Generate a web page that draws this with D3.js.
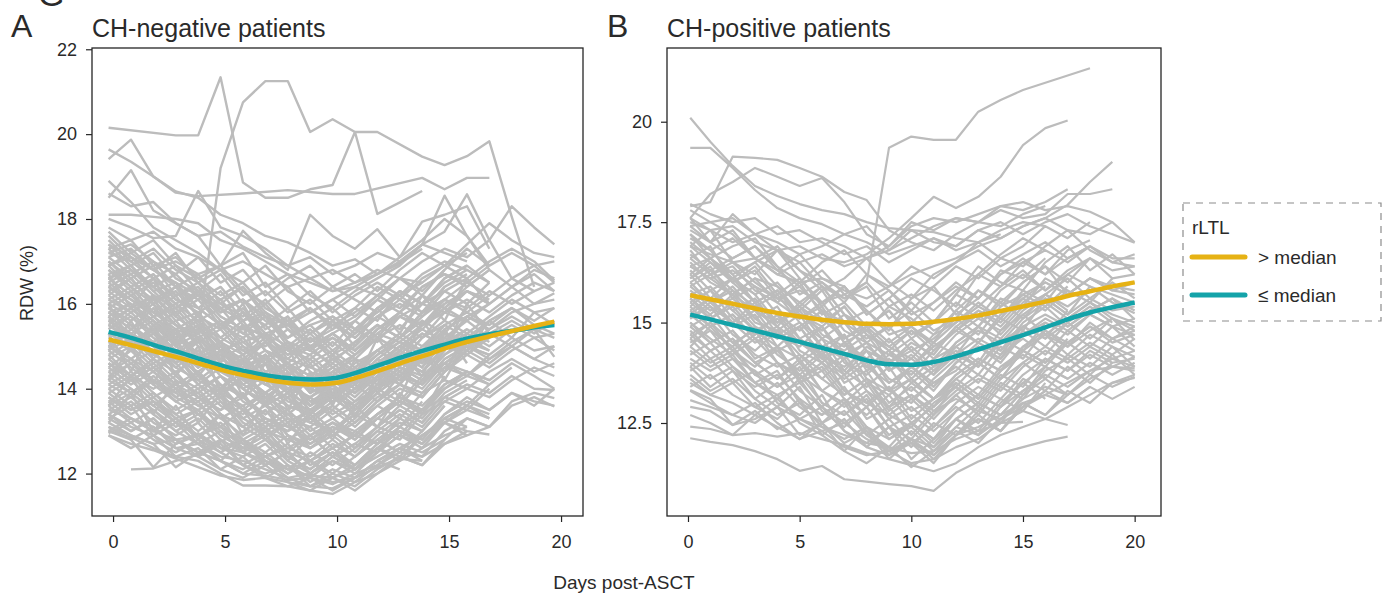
<!DOCTYPE html>
<html>
<head>
<meta charset="utf-8">
<title>RDW after ASCT by rLTL group</title>
<script src="https://cdn.jsdelivr.net/npm/d3@7/dist/d3.min.js"></script>
<style>
  html, body { margin: 0; padding: 0; background: #fff; }
  svg { display: block; }
  text { font-family: "Liberation Sans", "Helvetica Neue", Arial, sans-serif; fill: #2a2a2a; }
</style>
</head>
<body>
<svg id="chart" width="1392" height="602"></svg>
<script>
const _ = null; // no measurement on that day

// Measurement days (days post-ASCT) for each cohort
const negVisitDays = [-0.2, 0.8, 1.8, 2.8, 3.8, 4.8, 5.8, 6.8, 7.8, 8.8, 9.8, 10.8, 11.8, 12.8, 13.8, 14.8, 15.8, 16.8, 17.8, 18.8, 19.7];
const posVisitDays = [0.1, 1, 2, 3, 4, 5, 6, 7, 8, 9, 10, 11, 12, 13, 14, 15, 16, 17, 18, 19, 20];

// RDW (%) per patient, CH-negative cohort (one array per patient, by visit)
const negPatients = [
  [20.15,_,_,19.97,19.97,21.34,18.86,18.5,18.5,18.7,18.8,20.05,18.12,_,18.66],
  [16.6,16.2,15.8,15.5,15.3,19.2,20.75,21.25,21.25,20.05,20.35,20.05,20.05,_,19.47,19.27,19.48,19.83,18.05,16.4],
  [19.41,19.87,19.0,18.62,18.54,_,18.6,_,18.68,_,18.59,18.59,_,_,18.97,18.7,18.97,18.97],
  [19.64,19.35,19.0,18.65,18.5,18.1,17.9,17.6,17.45,17.2,16.9,17.05,16.7,16.95,17.3],
  [18.5,19.15,18.2,17.9,17.6,17.7,17.35,17.1,16.9,16.6,16.8,16.5,16.7,17.1,17.5,18.0,17.6,16.9],
  [18.0,17.8,17.55,17.6,18.66,17.8,17.6,17.3,16.9,17.1,16.7,16.9,17.2,17.0,17.4,17.2,17.0],
  [16.9,17.2,16.8,16.5,16.2,15.9,16.1,15.7,15.5,15.8,16.1,16.4,16.7,17.0,17.4,17.7,18.58,17.5,16.6,16.3,16.5],
  [17.4,17.1,16.8,17.0,16.7,16.9,17.72,17.2,16.8,18.1,17.6,17.3,17.76,17.1,17.94,18.1,18.3,17.3],
  [17.8,17.5,17.7,17.3,17.1,16.8,17.0,16.7,16.4,16.6,16.3,16.5,16.8,16.6,17.0,17.3,17.1,17.5,18.3,17.8,17.4],
  [18.1,18.1,18.05,18.0,17.9,17.5,17.3,17.0,16.7,16.5,16.3,16.4,16.2,16.6,16.5],
  [18.9,18.4,17.8,17.5,17.2,16.8,16.5,16.9,16.3,16.0,16.4,16.1,15.8,16.2,16.5,16.9,17.4,17.9,17.5,17.2,17.1],
  [18.6,18.3,18.4,17.9,17.6,16.9,17.2,16.4,16.7,16.2,15.9,16.3,16.6,16.9,17.4,18.55,17.6,16.8],
  [_,12.1,12.12,12.3,12.45,12.75,13.0,13.3,13.1,13.5,13.8,13.6,14.0,14.3],
  [13.0,12.8,12.15,12.7,12.95,12.6,12.8,12.4,12.6,12.9,13.2,13.0,13.4,13.7,13.5,14.0],
  [13.2,12.9,12.7,12.15,12.5,12.3,12.1,12.4,12.0,12.3,12.6,12.9,12.7,13.1,13.5],
  [13.0,12.85,12.6,12.4,12.3,12.0,11.72,11.72,11.7,11.6,11.52,11.8,12.0,12.3,12.6,12.9,13.1],
  [12.9,12.7,12.55,12.35,12.15,11.95,11.85,11.9,11.8,11.7,11.65,11.9,12.15,12.35,12.3],
  [13.1,12.9,12.7,12.8,12.5,12.3,12.0,11.95,11.85,11.9,11.75,12.0,12.2,12.5,12.4,12.7,12.9,13.1,13.6,13.8,13.58],
  [13.4,13.1,12.9,12.6,12.7,12.4,12.3,12.1,11.9,12.0,11.8,11.9,12.3,12.6,12.9,13.2,13.0,12.92],
  [13.5,13.3,13.0,12.8,12.9,12.6,12.5,12.3,12.1,11.95,11.9,12.1,12.4,12.7,12.5,12.8,13.3,13.1,13.7,13.9,13.78],
  [17.6,17.1,16.8,17.2,16.5,16.1,16.4,15.7,15.2,15.5,15.0,15.6,16.1,16.6,16.2,16.8,17.3,16.9],
  [15.1,15.3,15.0,15.4,15.2,14.9,15.1,15.3,14.8,15.0,15.2,14.9,15.3,15.1,15.5],
  [16.2,16.6,16.0,15.1,15.5,14.6,14.0,13.6,13.9,13.3,13.7,14.2,14.0,14.8,15.3,15.0,15.7,16.0],
  [13.9,13.5,13.7,13.2,12.9,13.1,12.6,12.4,12.1,12.5,12.2,12.6,13.0,12.8,13.4,13.7,13.5,14.0],
  [14.6,14.2,14.5,14.8,14.1,13.8,14.3,13.9,13.6,13.4,13.9,14.2,14.7,14.4,15.0,15.3,15.1,15.6,15.9,15.5,15.3],
  [16.9,16.4,16.7,16.1,15.9,16.3,15.6,15.8,15.2,15.5,15.7,15.3,15.9,16.2,15.8,16.4],
  [13.3,13.6,12.9,13.2,12.7,12.3,12.8,12.2,12.5,12.0,12.4,12.7,12.5,13.1],
  [15.6,15.9,15.4,14.7,15.1,14.5,14.8,14.2,14.6,14.1,13.8,14.4,14.1,14.9,14.6,15.2,15.6,15.2],
  [17.2,17.4,17.0,16.7,17.1,16.5,16.8,16.2,16.6,16.9,16.4,16.7,16.3,16.8,17.2,16.9,17.2],
  [14.9,14.5,14.1,14.4,13.8,13.5,13.9,13.2,13.0,13.4,12.9,13.3,13.8,14.1,13.9,14.5,14.9,14.6,15.0,14.7,15.0],
  [15.8,15.4,15.9,15.3,15.6,15.0,14.6,15.1,14.5,14.8,14.3,14.0,14.5,14.9,15.3,15.0],
  [16.5,16.1,15.8,16.2,15.5,15.2,15.6,14.9,14.7,15.2,14.8,15.4,15.1,15.7,16.0,15.8,16.3,16.0,16.4,16.7,16.3],
  [14.3,14.6,14.2,13.9,14.4,13.7,13.4,13.8,13.2,13.5,13.0,13.4,13.9,13.6,14.2,14.6,14.3,14.8],
  [17.0,16.6,16.9,16.2,16.4,15.8,16.1,15.4,15.7,15.1,15.4,15.9,15.6,16.3,16.0,16.6,16.9],
  [15.3,15.0,15.4,14.9,14.6,14.9,14.3,14.6,14.0,14.3,13.9,14.2,14.6,14.3,14.8,15.1,14.9,15.4,15.7,15.4,15.5],
  [13.6,13.2,13.5,13.0,12.7,13.0,12.5,12.2,12.5,12.0,12.3,12.1,12.6,12.4,12.9,13.3,13.1],
  [16.0,16.3,15.7,15.9,15.3,15.6,15.0,14.7,15.1,14.6,14.9,14.5,14.9,15.3,15.0,15.5],
  [14.8,15.1,14.6,14.9,14.3,14.0,14.4,13.8,13.5,13.8,13.4,13.7,14.0,14.5,14.2,14.8,15.2,14.9],
  [17.4,16.9,17.2,16.6,16.3,16.7,16.0,16.3,15.8,16.1,15.6,15.9,16.4,16.1,16.6,16.9,16.6,17.0,17.3,17.0,16.55],
  [15.5,15.2,14.8,15.1,14.5,14.8,14.2,13.9,14.3,13.7,14.0,13.6,14.1,14.5,14.2,14.9],
  [13.1,12.8,13.1,12.6,12.4,12.1,12.4,11.9,11.7,11.9,11.6,11.9,12.3,12.1],
  [16.7,16.9,16.3,16.5,15.9,15.5,15.9,15.3,15.0,15.4,14.9,15.3,15.7,15.4,16.0,16.3,16.0,16.5],
  [14.1,13.8,14.2,13.7,13.9,13.4,13.1,13.5,12.9,12.7,13.1,12.8,13.3,13.7,13.5,14.1,14.4,14.2,14.6,14.3,14.0],
  [15.9,15.6,16.0,15.5,15.1,15.4,14.8,15.1,14.6,14.3,14.7,14.4,14.8,15.2,14.9,15.5,15.8,15.5],
  [14.5,14.1,14.4,13.9,13.6,13.9,13.3,13.0,13.3,12.8,13.1,12.9,13.4,13.8,13.6,14.1],
  [17.1,17.3,16.8,16.4,16.7,16.0,15.7,16.1,15.5,15.3,15.7,15.4,15.8,16.3,16.0,16.5,16.8,16.5],
  [15.0,14.7,15.1,14.5,14.2,14.6,14.0,13.7,14.0,13.5,13.8,13.4,13.9,14.3,14.1,14.7,15.0,14.7,15.1,15.4,14.75],
  [13.5,13.8,13.4,13.0,13.3,12.8,12.5,12.8,12.3,12.0,12.4,12.1,12.5,12.9,12.7,13.2,13.5,13.3],
  [16.3,15.9,16.2,15.6,15.8,15.2,14.9,15.3,14.7,14.5,14.8,14.4,14.9,15.2,15.6,15.3,15.9],
  [14.0,14.3,13.8,14.1,13.6,13.3,13.6,13.0,12.8,13.1,12.6,12.9,13.3,13.1,13.7],
  [15.7,15.3,15.6,15.0,14.7,15.0,14.4,14.1,14.5,13.9,14.2,13.9,14.4,14.1,14.7,15.0,14.8,15.3,15.6,15.3,15.6],
  [16.8,16.4,16.0,16.4,15.7,15.4,15.8,15.1,14.8,15.2,14.7,15.0,15.5,15.2,15.8,16.1],
  [13.8,13.4,13.7,13.3,13.5,12.9,12.6,12.9,12.4,12.1,12.5,12.2,12.7,13.0,12.8,13.4,13.7,13.5,13.9,13.7,13.6],
  [15.4,15.7,15.2,14.8,15.2,14.6,14.3,14.6,14.0,13.8,14.1,13.7,14.2,14.6,14.4,14.9],
  [17.5,17.0,17.3,16.8,16.5,16.8,16.2,16.5,15.9,16.3,15.8,16.2,16.5,16.2,16.7,17.0,16.8],
  [14.4,14.0,13.6,14.0,13.4,13.1,13.5,12.8,12.5,12.9,12.4,12.7,13.1,12.9,13.5,13.8,13.6,14.1],
  [16.1,16.4,15.8,15.4,15.7,15.1,14.8,15.2,14.6,14.3,14.7,14.3,14.8,15.1,14.9,15.4,15.7,15.4,15.8,16.0,16.25],
  [12.9,12.6,12.9,12.4,12.6,12.1,11.9,12.2,11.8,11.6,11.9,11.7,12.1,12.4,12.2,12.8],
  [15.2,14.9,15.3,14.7,14.4,14.8,14.1,13.8,14.2,13.6,13.9,13.5,14.0,14.4,14.1,14.6,15.0,14.8],
  [16.6,16.8,16.3,15.8,16.1,15.5,15.2,15.5,14.9,14.7,15.1,14.7,15.2,15.5,15.2,15.8,16.1,15.8,16.2,16.5,16.3],
  [14.7,14.3,14.6,14.1,13.8,14.1,13.5,13.2,13.5,13.0,13.3,12.9,13.4,13.8,13.5,14.0,14.4,14.2],
  [13.4,13.0,13.3,12.8,12.5,12.8,12.2,12.0,12.2,11.8,12.1,11.9,12.3,12.6,12.4,13.0,13.3,13.1],
  [15.8,16.0,15.6,15.2,15.5,14.9,14.6,14.9,14.4,14.1,14.5,14.2,14.6,15.0,14.7,15.3],
  [17.3,17.5,16.9,17.1,16.6,16.2,16.5,15.9,15.6,15.9,15.5,15.8,16.2,15.9,16.4,16.7,16.4,16.8],
  [14.2,13.9,14.3,13.8,13.5,13.8,13.2,12.9,13.2,12.7,13.0,12.6,13.1,13.5,13.2,13.8,14.1,13.9,14.3,14.0,13.97],
  [15.6,15.2,14.9,15.3,14.7,14.4,14.7,14.1,13.8,14.2,13.7,14.0,14.4,14.2,14.7,15.0,14.8],
  [16.4,16.7,16.2,15.9,16.3,15.7,15.4,15.7,15.1,14.9,15.3,14.9,15.4,15.7,15.5,16.0,16.3,16.1],
  [13.7,14.0,13.6,13.2,13.5,13.0,12.7,13.0,12.5,12.3,12.7,12.4,12.8,13.2,13.0,13.6],
  [15.0,15.3,14.8,14.5,14.9,14.3,14.0,14.3,13.7,13.5,13.9,13.5,14.0,14.4,14.1,14.7,15.0,14.8,15.2,14.9,15.0],
  [14.2,15.0,14.1,15.2,14.3,14.9,13.8,14.6,13.5,14.4,13.6,14.7,13.9,14.8,14.3,15.4,14.6],
  [16.0,15.1,16.2,15.0,15.8,14.6,15.5,14.2,15.0,13.9,14.8,14.1,15.2,14.5,15.6,14.9,16.0,15.3],
  [15.3,14.4,15.5,14.6,15.2,13.9,14.7,13.6,14.4,13.4,14.1,13.3,14.3,13.8,14.9,14.2,15.1],
  [13.6,14.3,13.4,14.2,13.2,13.9,12.9,13.7,12.7,13.4,12.8,13.6,13.1,13.9,13.4,14.3],
  [16.7,15.9,16.6,15.7,16.3,15.4,16.0,15.1,15.7,14.9,15.6,15.0,15.9,15.3,16.2,15.6,16.6,16.0],
  [14.9,15.6,14.7,15.4,14.5,15.1,14.2,14.8,13.9,14.6,13.8,14.5,14.2,14.9,14.5,15.3,14.9,15.6,15.2,15.8,15.5],
  [15.7,15.0,15.4,14.3,15.0,14.0,14.6,13.7,14.3,13.6,14.2,13.9,14.6,14.1,14.9,14.4,15.3],
  [13.2,13.9,13.0,13.6,12.8,13.4,12.5,13.1,12.3,12.9,12.4,13.0,12.7,13.3],
  [16.4,16.0,15.5,15.8,15.2,14.7,15.0,14.4,14.6,14.1,14.4,14.7,14.5,15.0,15.4,15.1,15.7],
  [15.0,15.4,15.1,14.6,14.1,14.5,14.0,13.6,13.9,13.4,13.8,14.1,13.7,14.3,14.7,14.4,14.9,15.3,15.0,15.4,15.2],
  [14.1,14.4,13.9,13.5,13.8,13.3,12.9,13.2,12.8,12.6,13.0,13.4,13.1,13.6,13.3,13.9,14.2],
  [17.0,16.5,16.1,16.4,15.9,15.5,15.8,15.3,15.5,15.0,15.3,15.6,15.2,15.8,16.2,15.9,16.4,16.8,16.4,16.8,16.6],
  [15.9,15.5,15.1,15.4,14.8,14.4,14.7,14.3,13.9,14.2,14.5,14.1,14.6,15.0,14.7,15.2],
  [13.0,13.3,13.1,12.7,12.9,12.5,12.2,12.5,12.1,12.3,12.0,12.4,12.8,12.5,13.0],
  [16.6,16.2,16.5,16.0,15.6,15.9,15.3,15.0,15.4,14.9,14.6,15.1,15.5,15.2,15.7,16.1,15.8,16.2],
  [14.8,14.3,14.7,14.2,13.9,14.3,13.7,13.4,13.8,13.3,13.6,13.2,13.7,14.1,13.8,14.4,14.8,14.5,14.9,15.2,14.9],
  [15.5,15.9,15.5,15.0,15.3,14.7,14.4,14.8,14.2,14.0,14.4,14.1,14.5,14.8,14.5,15.1,15.4],
  [17.3,16.8,16.4,16.7,16.2,15.8,16.1,15.6,15.2,15.6,15.9,15.4,15.9,16.3,16.0,16.6,16.9,16.5],
  [13.4,13.7,13.2,12.9,13.2,12.6,12.4,12.7,12.2,11.9,12.3,12.0,12.5,12.9,12.6,13.2,13.6,13.3],
  [16.0,15.7,15.3,15.6,15.0,14.8,15.2,14.6,14.3,14.7,14.2,14.5,14.9,14.6,15.2,15.5,15.2,15.6,15.9,15.6,15.9],
  [14.5,14.9,14.4,14.0,14.3,13.8,13.5,13.9,13.3,13.1,13.5,13.1,13.6,14.0,13.8,14.4],
  [15.3,15.0,15.5,15.1,14.6,14.9,14.4,14.1,14.5,13.9,14.2,13.8,14.3,14.7,14.4,15.0,15.3,15.0,15.4],
  [16.9,17.1,16.6,16.2,16.5,15.9,15.6,16.0,15.4,15.1,15.5,15.2,15.7,16.0,15.7,16.3,16.6],
  [14.0,13.6,13.9,13.4,13.0,13.4,12.8,12.5,12.9,12.3,12.6,12.2,12.7,13.1,12.8,13.4,13.8,13.5,13.9,13.6,14.0],
  [15.7,16.0,15.6,15.1,15.4,14.9,14.5,14.8,14.3,14.0,14.4,14.0,14.5,14.9,14.6,15.2],
  [16.2,15.8,16.1,15.5,15.2,15.5,14.9,14.6,15.0,14.4,14.1,14.6,14.9,14.6,15.2,15.6,15.3,15.7,16.1,15.8,15.9],
  [13.7,13.3,13.0,13.3,12.8,12.5,12.8,12.3,12.0,12.3,11.9,12.2,12.6,12.3,12.9,13.2,12.9],
  [15.2,15.5,15.0,14.6,14.9,14.4,14.1,14.4,13.9,13.6,14.0,13.6,14.1,14.5,14.3,14.8,15.1,14.9],
  [17.7,17.2,17.5,16.9,16.6,16.9,16.3,16.0,16.4,15.8,16.1,15.7,16.2,16.6,16.3,16.8],
  [14.6,14.2,14.5,14.0,13.7,14.0,13.5,13.1,13.4,12.9,13.2,12.8,13.3,13.7,13.4,14.0,14.3,14.1,14.5],
  [16.5,16.8,16.4,15.9,16.2,15.6,15.3,15.7,15.0,14.8,15.2,14.8,15.3,15.7,15.4,15.9,16.3,16.0],
  [15.1,14.7,14.4,14.8,14.2,13.9,14.3,13.6,13.4,13.8,13.3,13.6,14.0,13.7,14.3,14.6,14.4],
  [13.9,14.2,13.7,13.4,13.7,13.1,12.8,13.1,12.6,12.4,12.8,12.4,12.9,13.3,13.0,13.6],
  [16.3,16.6,16.0,16.3,15.7,15.4,15.8,15.2,14.9,15.3,14.8,15.1,15.5,15.2,15.8,16.1,15.9,16.3,16.0,16.3],
  [14.4,14.7,14.2,13.8,14.1,13.6,13.3,13.6,13.1,12.8,13.2,12.9,13.4,13.7,13.5,14.1,14.4,14.1],
  [15.8,15.4,15.7,15.2,14.8,15.1,14.6,14.2,14.6,14.0,13.8,14.2,14.6,14.3,14.9,15.2,15.0,15.4],
  [12.95,13.2,12.8,12.5,12.8,12.3,12.0,12.3,11.9,11.7,12.0,11.8,12.2,12.6,12.3],
  [16.8,16.3,16.6,16.1,15.8,16.1,15.5,15.2,15.6,15.0,15.3,14.9,15.4,15.8,15.5,16.1,16.5,16.2,16.6,16.9,16.5],
  [14.9,15.2,14.7,14.4,14.7,14.1,13.8,14.2,13.6,13.4,13.8,13.4,13.9,14.3,14.0,14.6,14.9],
  [15.5,15.1,15.4,14.9,14.5,14.9,14.3,13.9,14.3,13.7,13.5,14.0,14.4,14.1,14.7,15.0,14.8,15.2,15.5,15.2,15.3],
  [17.1,16.7,17.0,16.4,16.1,16.4,15.8,15.5,15.9,15.3,15.6,15.2,15.7,16.1,15.8,16.4,16.7],
  [13.3,13.0,13.3,12.8,12.4,12.7,12.2,11.9,12.2,11.7,11.9,11.6,12.0,12.4,12.2,12.7,13.0],
  [14.3,13.9,14.2,13.7,13.4,13.7,13.1,12.8,13.2,12.6,12.9,12.5,13.0,13.4,13.1,13.7,14.0,13.8,14.2,14.5,14.3],
  [16.1,15.8,16.2,15.7,15.3,15.6,15.1,14.7,15.1,14.5,14.3,14.8,15.2,14.9,15.5,15.8,15.6],
  [15.4,15.8,15.3,14.9,15.2,14.6,14.3,14.7,14.1,13.8,14.2,13.9,14.3,14.7,14.4,15.0,15.4,15.1],
  [14.7,15.0,14.5,14.1,14.4,13.9,13.6,13.9,13.4,13.2,13.6,13.2,13.7,14.1,13.8,14.4],
  [16.4,16.1,15.7,16.0,15.4,15.1,15.5,14.9,14.6,15.0,14.5,14.8,15.2,14.9,15.5,15.9,15.6,16.0,16.4,16.0,16.1],
  [13.6,13.9,13.5,13.1,13.4,12.9,12.6,12.9,12.4,12.1,12.5,12.1,12.6,13.0,12.7,13.3,13.6],
  [15.6,15.3,15.0,15.3,14.8,14.5,14.8,14.2,14.0,14.3,13.8,14.1,14.5,14.2,14.8,15.1,14.9,15.3],
  [17.2,17.0,16.6,16.9,16.3,16.0,16.4,15.8,15.5,15.9,15.4,15.7,16.1,15.8,16.4,16.7,16.5,16.9,17.2,16.9,17.0],
  [14.2,14.6,14.1,13.7,14.0,13.4,13.1,13.5,12.9,12.6,13.0,12.6,13.1,13.5,13.2,13.8,14.1],
  [15.0,14.6,14.9,14.3,14.0,14.3,13.8,13.4,13.8,13.2,13.0,13.5,13.9,13.6,14.2,14.5,14.3,14.7,15.0,14.7,14.5],
  [16.6,16.9,16.4,16.0,16.3,15.7,15.4,15.8,15.1,14.9,15.3,14.9,15.4,15.8,15.5,16.0],
  [13.8,13.5,13.8,13.3,12.9,13.2,12.7,12.4,12.7,12.2,12.5,12.1,12.6,13.0,12.7,13.3,13.6,13.4],
  [15.9,16.2,15.7,15.3,15.6,15.0,14.7,15.1,14.5,14.2,14.6,14.2,14.7,15.1,14.8,15.4,15.7,15.5,15.9],
  [14.6,14.3,14.0,14.3,13.8,13.5,13.8,13.3,13.0,13.3,12.9,13.2,13.6,13.3,13.9,14.2,14.0,14.4,14.7,14.4,14.6]
];

// RDW (%) per patient, CH-positive cohort
const posPatients = [
  [20.1,19.5,18.9,18.4,18.15,17.95,17.8,17.7,17.5,17.35,17.3,17.25,17.1,17.0,17.3,17.5,17.4],
  [19.35,19.35,18.85,18.3,17.85,17.6,17.45,17.2,17.0,16.7,16.9,17.1,16.8,17.0,17.2],
  [17.9,18.0,19.13,19.1,19.05,18.85,18.63,18.25,18.05,17.3,17.0,16.8,17.2,17.5,17.4,17.7,17.9],
  [16.4,16.1,16.3,15.9,15.6,15.8,15.5,15.7,16.0,19.35,19.63,19.55,19.55,20.25,20.54,20.79,_,_,21.33],
  [17.5,17.3,17.4,17.0,16.8,16.9,16.6,16.5,16.7,17.1,17.6,18.13,17.85,18.13,18.63,19.42,19.84,20.03],
  [16.9,16.7,16.5,16.6,16.2,16.0,16.1,15.8,15.6,15.9,16.2,16.4,16.6,16.9,17.1,17.4,17.6,17.93,18.5,19.0],
  [17.8,17.5,17.6,17.2,17.4,17.0,17.1,16.9,16.6,16.8,17.1,17.4,17.6,17.5,17.8,17.6,17.7,18.2,18.2,18.32],
  [17.6,17.3,17.0,17.2,16.8,16.5,16.7,16.4,16.6,16.9,17.4,17.6,17.5,17.7,17.9,17.8,18.0,18.32],
  [17.6,18.2,18.5,18.85,18.63,18.4,18.6,18.0,17.2,16.9,17.5,17.3,17.6,17.5,17.9,18.0,17.8,17.9,17.76,17.5],
  [17.3,17.0,17.7,17.2,17.0,16.7,16.9,17.2,17.4,16.8,17.3,17.0,16.9,17.3,17.1,17.4,17.6,17.3,17.2,17.5,17.0],
  [12.12,12.03,11.95,11.8,11.6,11.31,11.43,11.1,11.04,10.98,10.93,10.81,11.26,11.54,11.75,11.9,12.05,12.16],
  [12.41,12.35,12.2,12.25,12.16,12.25,12.1,11.95,11.75,11.6,11.45,11.3,11.5,11.9,12.2,12.4,12.6,12.9,13.2,13.5,13.62],
  [12.7,12.5,12.2,12.7,12.4,12.1,12.3,11.9,11.7,11.8,11.5,11.6,11.9,12.1,12.5,12.53],
  [12.9,12.8,12.45,12.6,12.9,12.6,12.4,12.2,12.0,11.9,11.75,11.8,12.1,12.3,12.5,12.8,12.6,12.45],
  [13.32,13.1,12.45,12.8,12.35,12.6,12.3,12.5,12.1,11.8,12.0,11.7,12.2,12.4,12.7,13.0,13.2,13.5,13.8,13.9,13.86],
  [13.07,12.9,12.7,12.5,12.9,12.2,12.5,12.0,12.3,11.6,12.1,11.9,12.4,12.2,12.6,12.9,13.3,13.0,13.4],
  [13.5,13.2,13.0,12.7,13.1,12.6,12.9,12.3,12.0,12.4,11.9,12.5,12.2,12.8,12.6,13.1,13.4,13.2,13.6,13.9,14.15],
  [17.95,17.7,17.5,17.6,17.2,17.3,17.0,16.7,16.9,16.5,16.8,17.1,16.9,17.3,17.5,17.2,17.5,17.7,17.4,17.2,16.99],
  [17.6,17.0,17.3,16.6,16.9,16.3,16.0,15.5,16.2,15.8,15.3,15.9,16.4,16.1,16.6,16.4,16.9,17.3,16.8,16.5,16.4],
  [17.4,17.5,17.2,16.6,16.3,16.7,16.1,15.9,15.2,15.6,16.1,15.8,15.4,16.2,16.7,17.1,16.8],
  [17.2,16.6,16.9,17.1,16.4,15.7,16.0,15.6,15.9,15.1,15.5,15.0,15.7,16.4,16.0,15.8,16.5,16.9,16.3,16.7,16.2],
  [16.9,17.3,16.5,16.2,16.8,16.1,15.4,15.9,15.3,14.8,15.6,15.9,15.2,15.6,16.3,16.1,16.6],
  [16.8,16.2,16.4,15.8,15.5,16.0,15.2,15.5,14.9,15.3,14.6,15.0,15.7,15.4,15.9,16.3,15.8,16.2,16.6,16.1,16.2],
  [16.6,16.9,16.0,16.3,15.6,15.3,15.8,15.0,14.6,14.9,15.3,14.8,15.1,15.8,15.5,16.0,16.4,15.7,16.1,15.9,15.8],
  [16.5,16.0,15.7,16.1,15.9,15.2,14.9,15.4,14.7,14.3,14.8,14.5,15.3,14.9,15.6,15.4,16.1,15.8,15.5,16.1],
  [16.4,16.6,16.2,15.5,15.8,15.1,15.4,14.6,14.9,14.4,14.1,14.7,15.0,15.5,15.1,15.8,15.5,16.2,15.9,15.7,15.5],
  [16.3,15.8,16.1,15.7,15.0,15.4,14.7,14.4,14.9,14.0,14.5,14.2,14.9,14.5,15.2,15.6,15.3,15.8],
  [16.1,16.4,15.6,15.9,15.2,14.8,15.3,14.5,14.1,14.6,13.9,14.4,14.8,14.5,15.1,14.8,15.6,15.2,15.9,15.5,15.23],
  [16.0,15.5,15.8,15.1,15.4,14.6,14.9,14.2,14.5,13.8,14.2,13.7,14.5,14.9,14.3,15.0,15.4,14.9,15.3,15.6,15.08],
  [15.9,16.2,15.7,15.0,14.8,15.2,14.4,14.7,13.9,14.3,13.6,14.1,14.4,14.0,14.8,15.2,14.7,15.1,15.5,15.1,14.9],
  [15.8,15.4,15.0,15.5,14.7,14.4,14.9,14.0,13.7,14.2,13.9,13.4,14.0,14.5,14.2,14.9,14.6,15.3],
  [15.7,15.9,15.3,15.6,14.9,14.5,14.2,14.7,13.8,14.1,13.5,13.9,14.3,13.9,14.6,14.3,15.0,14.7,15.2,14.9,14.69],
  [15.6,15.1,15.4,14.8,14.4,14.9,14.1,13.7,14.3,13.5,13.8,13.3,14.0,14.4,14.1,14.8,14.4,15.0,14.6,15.1,14.57],
  [15.5,15.8,15.1,14.7,15.2,14.3,14.0,14.5,13.6,13.3,13.9,13.5,13.8,14.4,14.0,14.7,15.0],
  [15.4,14.9,15.2,14.6,14.9,14.0,14.4,13.7,14.1,13.3,13.0,13.6,14.1,13.7,14.4,14.1,14.8,14.4,15.0,14.6,14.8],
  [15.3,15.6,14.9,15.2,14.4,14.1,14.6,13.8,13.4,13.9,13.1,13.5,13.9,13.5,14.2,14.6,14.2,14.8,14.4,14.9,14.4],
  [15.2,14.8,14.4,14.9,14.2,13.8,14.3,13.5,13.8,13.0,13.4,12.9,13.6,14.0,13.6,14.3,14.0,14.6],
  [15.1,15.4,14.7,14.3,14.8,14.0,13.6,14.1,13.3,12.9,13.5,13.1,13.4,14.0,13.6,14.3,14.7,14.2,14.7,14.4,14.15],
  [15.0,14.5,14.8,14.1,14.4,13.6,13.9,13.2,13.6,12.8,13.2,12.7,13.5,13.1,13.8,14.2,13.9,14.5,14.1,14.6,14.3],
  [14.9,15.2,14.5,14.8,14.0,13.7,14.2,13.3,12.9,13.4,12.6,13.1,13.5,13.1,13.8,14.3],
  [14.8,14.3,14.6,14.0,13.6,14.1,13.3,13.0,13.5,12.7,12.4,13.0,13.4,13.0,13.7,13.4,14.1,13.8,14.3,14.0,14.1],
  [14.7,15.0,14.3,13.9,14.4,13.5,13.8,13.1,12.7,13.2,12.5,12.9,13.4,12.9,13.6,14.0,13.6,14.2,13.9,14.4,13.9],
  [14.6,14.1,14.4,13.7,14.0,13.3,12.9,13.4,12.6,12.9,12.2,12.8,13.1,12.8,13.5,13.2,13.9,13.6],
  [14.5,14.8,14.1,13.8,13.4,13.9,13.0,12.7,13.2,12.4,12.1,12.7,13.2,12.7,13.4,13.1,13.8,14.1,13.7,14.2,13.7],
  [14.3,13.9,14.2,13.5,13.8,13.0,12.7,13.1,12.3,11.9,12.5,12.1,12.8,13.2,12.9,13.6,13.3,13.9,13.5,14.0],
  [14.2,14.5,13.9,13.5,13.1,13.6,12.8,12.4,12.9,12.1,12.4,11.9,12.6,12.3,13.0,13.5,13.1],
  [14.0,13.6,13.9,13.3,12.9,13.4,12.5,12.8,12.2,11.8,12.3,11.8,12.4,12.9,12.5,13.2,13.6,13.2,13.7,13.4,13.65],
  [13.8,14.1,13.5,13.8,13.0,12.7,13.2,12.3,11.9,12.4,11.6,12.1,12.6,12.2,12.9,13.3],
  [13.6,13.2,13.5,12.9,12.6,13.1,12.2,11.8,12.4,11.7,12.0,11.5,12.2,12.7,12.3,13.0,12.7,13.3,13.0,13.5,13.7],
  [16.7,16.3,16.6,16.9,16.4,16.0,16.5,16.8,16.2,15.9,16.4,16.1,16.5,16.8,16.4,16.7,17.0,16.6,16.9,16.5,16.7],
  [17.1,16.8,16.2,16.5,16.8,16.3,15.8,16.1,16.6,16.0,15.6,16.2,16.5,17.0,16.6,16.9,17.4,17.1,17.5],
  [15.2,15.6,16.1,15.5,15.0,15.4,15.9,15.2,14.8,15.4,15.1,14.7,15.3,15.8,15.4,16.0,16.4,16.0,16.6,16.3,16.4],
  [14.4,14.9,14.3,14.7,15.2,14.6,14.2,13.8,14.4,14.0,13.7,14.3,14.8,15.2,14.7,15.3,15.7,15.3],
  [16.2,15.6,15.0,15.3,14.6,14.9,15.3,14.5,14.8,14.3,13.9,14.5,14.2,14.9,15.5,15.1,15.7,16.1,15.6,16.0,15.6],
  [13.9,13.4,13.8,13.1,13.5,12.9,12.5,13.0,12.2,12.6,12.0,12.4,12.9,12.5,13.1,12.8,13.5],
  [15.6,15.2,15.7,15.3,14.9,15.5,15.1,14.6,15.0,14.5,14.9,14.4,14.8,15.3,14.9,15.5,15.9],
  [17.0,16.6,16.0,16.4,15.7,16.1,15.5,15.9,15.2,15.6,15.0,15.5,16.0,15.6,16.2,16.6,16.2,16.8,17.05],
  [16.6,16.2,16.5,16.0,15.6,15.9,15.3,15.0,15.3,14.7,14.9,14.5,15.0,15.4,15.1,15.7,16.0,15.7,16.1,15.8,16.0],
  [15.4,15.8,15.3,14.8,15.1,14.5,14.1,14.5,13.9,13.5,13.9,13.4,14.0,14.4,14.1,14.7,15.1,14.8,15.2,14.9,15.1],
  [14.9,14.5,14.8,14.2,13.9,14.2,13.6,13.2,13.6,12.9,13.2,12.8,13.3,13.7,13.4,14.0,14.4,14.1,14.5,14.2,14.6],
  [16.1,16.5,16.0,15.5,15.8,15.2,14.8,15.2,14.5,14.2,14.6,14.1,14.7,15.1,14.8,15.4,15.7,15.4,15.8],
  [13.9,14.3,13.8,13.4,13.7,13.1,12.7,13.1,12.4,12.1,12.5,12.0,12.6,13.0,12.7,13.3,13.7,13.4,13.8,14.1,13.9],
  [17.2,16.8,17.1,16.6,16.2,16.5,15.9,15.6,16.0,15.4,15.7,15.3,15.8,16.2,15.9,16.5,16.8,16.5,16.9],
  [15.0,14.6,14.2,14.6,14.0,13.6,14.0,13.3,13.0,13.4,12.8,13.1,13.6,13.2,13.9,14.3,14.0,14.5,14.9,14.5,14.7],
  [16.0,16.3,15.8,15.4,15.7,15.0,14.6,15.0,14.3,14.0,14.4,13.9,14.5,14.9,14.6,15.2,15.6,15.2,15.6,15.3,15.4],
  [14.4,14.0,14.3,13.7,13.4,13.7,13.0,12.7,13.1,12.4,12.7,12.3,12.8,13.2,12.9,13.5,13.9,13.6,14.0,13.7,14.0],
  [15.7,15.3,15.6,15.1,14.7,15.0,14.4,14.1,14.5,13.8,14.1,13.7,14.2,14.6,14.3,14.9,15.2,14.9,15.3,15.6,15.3],
  [13.4,13.7,13.2,12.9,13.2,12.5,12.2,12.6,11.9,11.7,12.1,11.6,12.2,12.6,12.3,12.9,13.3],
  [16.9,16.5,16.1,16.5,15.9,15.5,15.9,15.2,14.9,15.3,14.7,15.0,15.5,15.1,15.8,16.2,15.8,16.3,16.6],
  [14.6,15.0,14.5,14.0,14.3,13.7,13.3,13.7,13.0,12.7,13.1,12.6,13.2,13.6,13.3,13.9,14.3,14.0,14.4,14.1,14.3],
  [15.9,15.5,15.9,15.3,15.0,15.3,14.6,14.3,14.7,14.0,14.3,13.8,14.4,14.8,14.5,15.1,15.5,15.1,15.5,15.2,15.0],
  [13.7,13.3,13.6,13.1,12.7,13.0,12.4,12.1,12.4,11.8,12.1,11.7,12.2,12.6,12.3,12.9,13.2,13.0,13.4,13.1,13.4],
  [16.4,16.1,15.7,16.1,15.5,15.1,15.5,14.8,14.5,14.9,14.3,14.6,15.1,14.7,15.4,15.7,15.4,15.9],
  [15.1,15.5,15.0,14.5,14.8,14.2,13.8,14.2,13.5,13.2,13.6,13.1,13.7,14.1,13.8,14.4,14.8,14.5,14.9,14.6,14.9],
  [14.1,13.8,14.1,13.5,13.2,13.5,12.9,12.5,12.9,12.2,12.5,12.1,12.6,13.0,12.7,13.3,13.7],
  [17.4,17.0,16.6,16.9,16.3,15.9,16.3,15.7,15.4,15.8,15.2,15.5,15.9,15.6,16.2,16.5,16.2,16.6,16.9,16.6,16.6],
  [15.5,15.1,15.5,14.9,14.6,14.9,14.2,13.9,14.3,13.6,13.3,13.8,14.2,13.9,14.5,14.9,14.6,15.0,15.4,15.0],
  [14.7,14.3,14.6,14.0,13.6,14.0,13.3,12.9,13.3,12.6,12.9,12.4,13.0,13.4,13.1,13.7,14.1,13.8,14.2,13.9,13.8],
  [16.2,16.6,16.1,15.7,16.0,15.4,15.0,15.4,14.7,14.4,14.8,14.3,14.9,15.3,15.0,15.6,16.0,15.7,16.1,15.8,15.7],
  [13.3,13.0,12.7,13.0,12.5,12.1,12.5,11.8,11.5,11.9,11.4,11.8,12.3,12.0,12.6,13.0,12.7,13.2],
  [15.3,14.9,15.2,14.6,14.3,14.6,14.0,13.6,14.0,13.3,13.6,13.1,13.7,14.1,13.8,14.4,14.7,14.4,14.8,15.1,14.8]
];

// Smoothed RDW trajectory per rLTL group
const negCurveDays = [-0.2, 1, 2, 3, 4, 5, 6, 7, 8, 9, 10, 11, 12, 13, 14, 15, 16, 17, 18, 19, 19.7];
const negAboveMedian = [15.16, 15.0, 14.86, 14.72, 14.57, 14.42, 14.3, 14.2, 14.13, 14.1, 14.14, 14.28, 14.45, 14.63, 14.8, 14.98, 15.13, 15.26, 15.38, 15.5, 15.58];
const negAtOrBelowMedian = [15.34, 15.17, 15.0, 14.85, 14.68, 14.52, 14.4, 14.3, 14.24, 14.22, 14.26, 14.4, 14.58, 14.76, 14.92, 15.07, 15.2, 15.3, 15.38, 15.46, 15.5];
const posCurveDays = [0.1, 1, 2, 3, 4, 5, 6, 7, 8, 9, 10, 11, 12, 13, 14, 15, 16, 17, 18, 19, 20];
const posAboveMedian = [15.68, 15.58, 15.47, 15.35, 15.24, 15.15, 15.07, 15.01, 14.97, 14.96, 14.97, 15.02, 15.09, 15.18, 15.29, 15.4, 15.52, 15.66, 15.78, 15.9, 16.0];
const posAtOrBelowMedian = [15.2, 15.08, 14.94, 14.8, 14.66, 14.52, 14.37, 14.22, 14.06, 13.96, 13.95, 14.02, 14.16, 14.33, 14.51, 14.69, 14.88, 15.08, 15.25, 15.38, 15.5];

// Axis ticks and labels
const xTicks = [0, 5, 10, 15, 20];
const negYTicks = [12, 14, 16, 18, 20, 22];
const posYTicks = [12.5, 15, 17.5, 20];
const panelTitles = ["CH-negative patients", "CH-positive patients"];
const panelLetters = ["A", "B"];
const legendTitle = "rLTL";
const groupLabels = ["> median", "\u2264 median"];

const COLORS = { grey: "#bcbcbc", above: "#e6b214", below: "#14a3a9", ink: "#262626" };
const FONT = '"Liberation Sans", "Helvetica Neue", Arial, sans-serif';
const PLOT_TOP = 48, PLOT_BOTTOM = 516;

const svg = d3.select("#chart");
const defs = svg.append("defs");

function styleAxis(sel) {
  sel.attr("font-family", FONT).attr("font-size", 18);
  sel.select(".domain").remove();
  sel.selectAll(".tick line").attr("stroke", COLORS.ink).attr("stroke-width", 1.2);
  sel.selectAll(".tick text").attr("fill", "#303030");
}

function drawPanel(p) {
  const x = d3.scaleLinear().domain(p.xDomain).range([p.left, p.right]);
  const y = d3.scaleLinear().domain(p.yDomain).range([PLOT_BOTTOM, PLOT_TOP]);
  const g = svg.append("g").attr("class", "panel-" + p.id);

  defs.append("clipPath").attr("id", "clip-" + p.id)
    .append("rect")
    .attr("x", p.left).attr("y", PLOT_TOP)
    .attr("width", p.right - p.left).attr("height", PLOT_BOTTOM - PLOT_TOP);

  const plot = g.append("g").attr("clip-path", `url(#clip-${p.id})`);

  const trace = d3.line().x(d => x(d[0])).y(d => y(d[1]));
  plot.selectAll("path.patient")
    .data(p.patients)
    .join("path")
    .attr("class", "patient")
    .attr("d", vals => trace(vals.map((v, i) => [p.days[i], v]).filter(d => d[1] !== null)))
    .attr("fill", "none")
    .attr("stroke", COLORS.grey)
    .attr("stroke-width", p.strokeWidth)
    .attr("stroke-linejoin", "round");

  const smooth = d3.line().curve(d3.curveMonotoneX).x(d => x(d[0])).y(d => y(d[1]));
  [[p.below, COLORS.below], [p.above, COLORS.above]].forEach(([vals, color]) => {
    plot.append("path")
      .attr("d", smooth(vals.map((v, i) => [p.curveDays[i], v])))
      .attr("fill", "none")
      .attr("stroke", color)
      .attr("stroke-width", 4.5);
  });

  g.append("rect")
    .attr("x", p.left).attr("y", PLOT_TOP)
    .attr("width", p.right - p.left).attr("height", PLOT_BOTTOM - PLOT_TOP)
    .attr("fill", "none").attr("stroke", COLORS.ink).attr("stroke-width", 1.3);

  g.append("g")
    .attr("transform", `translate(0,${PLOT_BOTTOM})`)
    .call(d3.axisBottom(x).tickValues(xTicks).tickSize(6).tickPadding(13))
    .call(styleAxis);

  g.append("g")
    .attr("transform", `translate(${p.left},0)`)
    .call(d3.axisLeft(y).tickValues(p.yTicks).tickFormat(d3.format("")).tickSize(6).tickPadding(9))
    .call(styleAxis);

  g.append("text")
    .attr("x", p.letterX).attr("y", 37)
    .attr("font-size", 32).attr("fill", "#1e1e1e")
    .text(p.letter);
  g.append("text")
    .attr("x", p.left).attr("y", 37)
    .attr("font-size", 25).attr("fill", "#2a2a2a")
    .text(p.title);
}

drawPanel({
  id: "neg", left: 92, right: 583, strokeWidth: 2.4,
  xDomain: [-0.94, 20.98], yDomain: [11.0, 22.03],
  yTicks: negYTicks, days: negVisitDays, patients: negPatients,
  curveDays: negCurveDays, above: negAboveMedian, below: negAtOrBelowMedian,
  letter: panelLetters[0], letterX: 11, title: panelTitles[0]
});

drawPanel({
  id: "pos", left: 667, right: 1161, strokeWidth: 2.2,
  xDomain: [-0.94, 21.18], yDomain: [10.185, 21.835],
  yTicks: posYTicks, days: posVisitDays, patients: posPatients,
  curveDays: posCurveDays, above: posAboveMedian, below: posAtOrBelowMedian,
  letter: panelLetters[1], letterX: 607, title: panelTitles[1]
});

// Shared axis titles
svg.append("text")
  .attr("x", 624).attr("y", 589)
  .attr("text-anchor", "middle").attr("font-size", 19)
  .text("Days post-ASCT");
svg.append("text")
  .attr("transform", "translate(33,283) rotate(-90)")
  .attr("text-anchor", "middle").attr("font-size", 18)
  .text("RDW (%)");

// Faint glyph fragment along the upper edge
svg.append("text")
  .attr("x", 38).attr("y", 6)
  .attr("font-size", 34).attr("fill", "#c6c6c6")
  .text("G");

// Legend
const legend = svg.append("g").attr("class", "legend");
legend.append("rect")
  .attr("x", 1183).attr("y", 203).attr("width", 198).attr("height", 118)
  .attr("fill", "none").attr("stroke", "#8c8c8c").attr("stroke-width", 1.2)
  .attr("stroke-dasharray", "7,6");
legend.append("text")
  .attr("x", 1192).attr("y", 234).attr("font-size", 19)
  .text(legendTitle);
[[COLORS.above, 257], [COLORS.below, 295]].forEach(([color, yy], i) => {
  legend.append("line")
    .attr("x1", 1192).attr("x2", 1245).attr("y1", yy).attr("y2", yy)
    .attr("stroke", color).attr("stroke-width", 5).attr("stroke-linecap", "round");
  legend.append("text")
    .attr("x", 1258).attr("y", yy + 7).attr("font-size", 19)
    .text(groupLabels[i]);
});
</script>
</body>
</html>
